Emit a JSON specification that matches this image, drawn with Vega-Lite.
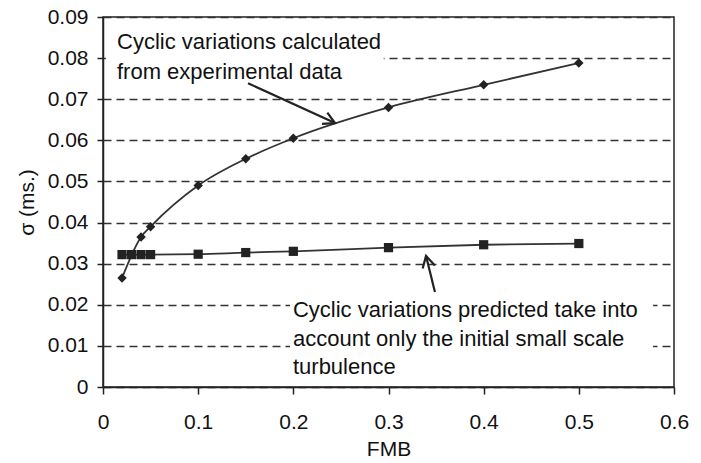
{
  "$schema": "https://vega.github.io/schema/vega-lite/v6.json",
  "width": 571,
  "height": 370,
  "autosize": "none",
  "padding": {"left": 103, "top": 17, "right": 27, "bottom": 76},
  "background": "white",
  "config": {
    "view": {"stroke": "#222", "strokeWidth": 1.5},
    "font": "Liberation Sans"
  },
  "encoding": {
    "x": {
      "field": "x",
      "type": "quantitative",
      "scale": {"domain": [0, 0.6], "nice": false, "zero": false},
      "axis": {
        "values": [0, 0.1, 0.2, 0.3, 0.4, 0.5, 0.6],
        "labelExpr": "datum.value == 0 ? '0' : format(datum.value, '.1f')",
        "title": "FMB",
        "grid": false,
        "domainColor": "#222",
        "domainWidth": 1.5,
        "tickColor": "#222",
        "tickSize": 7,
        "tickWidth": 1.5,
        "labelFontSize": 21,
        "labelColor": "#111",
        "labelPadding": 17,
        "labelFlush": false,
        "labelOverlap": false,
        "labelBound": false,
        "titleFontSize": 21,
        "titleFontWeight": "normal",
        "titleColor": "#111",
        "titlePadding": 6
      }
    },
    "y": {
      "field": "y",
      "type": "quantitative",
      "scale": {"domain": [0, 0.09], "nice": false, "zero": false},
      "axis": {
        "values": [0, 0.01, 0.02, 0.03, 0.04, 0.05, 0.06, 0.07, 0.08, 0.09],
        "labelExpr": "datum.value == 0 ? '0' : format(datum.value, '.2f')",
        "title": "σ (ms.)",
        "grid": true,
        "gridDash": [8, 5],
        "gridColor": "#333",
        "gridWidth": 1.6,
        "domainColor": "#222",
        "domainWidth": 1.5,
        "tickColor": "#222",
        "tickSize": 6,
        "tickWidth": 1.5,
        "labelFontSize": 21,
        "labelColor": "#111",
        "labelPadding": 9,
        "labelFlush": false,
        "labelOverlap": false,
        "labelBound": false,
        "titleFontSize": 21,
        "titleFontWeight": "normal",
        "titleColor": "#111",
        "titlePadding": 10
      }
    }
  },
  "layer": [
    {
      "data": {"values": [
        {"x": 0.003, "x2": 0.295, "y": 0.0732, "y2": 0.0873},
        {"x": 0.1965, "x2": 0.578, "y": 0.0012, "y2": 0.0221}
      ]},
      "mark": {"type": "rect", "color": "white"},
      "encoding": {"x2": {"field": "x2"}, "y2": {"field": "y2"}}
    },
    {
      "data": {"values": [
        {"series": "experimental", "x": 0.02, "y": 0.0265},
        {"series": "experimental", "x": 0.04, "y": 0.0365},
        {"series": "experimental", "x": 0.05, "y": 0.039},
        {"series": "experimental", "x": 0.1, "y": 0.049},
        {"series": "experimental", "x": 0.15, "y": 0.0555},
        {"series": "experimental", "x": 0.2, "y": 0.0605},
        {"series": "experimental", "x": 0.3, "y": 0.068},
        {"series": "experimental", "x": 0.4, "y": 0.0735},
        {"series": "experimental", "x": 0.5, "y": 0.0788},
        {"series": "predicted", "x": 0.02, "y": 0.0322},
        {"series": "predicted", "x": 0.03, "y": 0.0322},
        {"series": "predicted", "x": 0.04, "y": 0.0322},
        {"series": "predicted", "x": 0.05, "y": 0.0322},
        {"series": "predicted", "x": 0.1, "y": 0.0323},
        {"series": "predicted", "x": 0.15, "y": 0.0327},
        {"series": "predicted", "x": 0.2, "y": 0.033},
        {"series": "predicted", "x": 0.3, "y": 0.0339},
        {"series": "predicted", "x": 0.4, "y": 0.0346},
        {"series": "predicted", "x": 0.5, "y": 0.0349}
      ]},
      "layer": [
        {
          "mark": {"type": "line", "interpolate": "monotone", "color": "#333", "strokeWidth": 1.8},
          "encoding": {"detail": {"field": "series"}}
        },
        {
          "mark": {"type": "point", "filled": true, "color": "#222", "opacity": 1},
          "encoding": {
            "shape": {"field": "series", "type": "nominal", "scale": {"domain": ["experimental", "predicted"], "range": ["diamond", "square"]}, "legend": null},
            "size": {"field": "series", "type": "nominal", "scale": {"domain": ["experimental", "predicted"], "range": [90, 85]}, "legend": null}
          }
        }
      ]
    },
    {
      "data": {"values": [
        {"x": 0.0147, "y": 0.0839, "label": "Cyclic variations calculated"},
        {"x": 0.0147, "y": 0.0766, "label": "from experimental data"},
        {"x": 0.1996, "y": 0.0187, "label": "Cyclic variations predicted take into"},
        {"x": 0.1996, "y": 0.0117, "label": "account only the initial small scale"},
        {"x": 0.1996, "y": 0.0049, "label": "turbulence"}
      ]},
      "mark": {"type": "text", "align": "left", "baseline": "middle", "fontSize": 22, "color": "#111"},
      "encoding": {"text": {"field": "label"}}
    },
    {
      "data": {"values": [
        {"x": 0.1524, "y": 0.0739, "x2": 0.2438, "y2": 0.0642},
        {"x": 0.3488, "y": 0.0231, "x2": 0.3394, "y2": 0.0319}
      ]},
      "mark": {"type": "rule", "color": "#222", "strokeWidth": 2.2},
      "encoding": {"x2": {"field": "x2"}, "y2": {"field": "y2"}}
    },
    {
      "data": {"values": [{"x": 0.2438, "y": 0.0642}]},
      "mark": {"type": "point", "shape": "M -0.55 1 L 0 0 L 0.55 1", "filled": false, "color": "#222", "strokeWidth": 2.2, "size": 520, "angle": 115, "opacity": 1},
      "encoding": {}
    },
    {
      "data": {"values": [{"x": 0.3394, "y": 0.0319}]},
      "mark": {"type": "point", "shape": "M -0.55 1 L 0 0 L 0.55 1", "filled": false, "color": "#222", "strokeWidth": 2.2, "size": 520, "angle": 346, "opacity": 1},
      "encoding": {}
    }
  ]
}
